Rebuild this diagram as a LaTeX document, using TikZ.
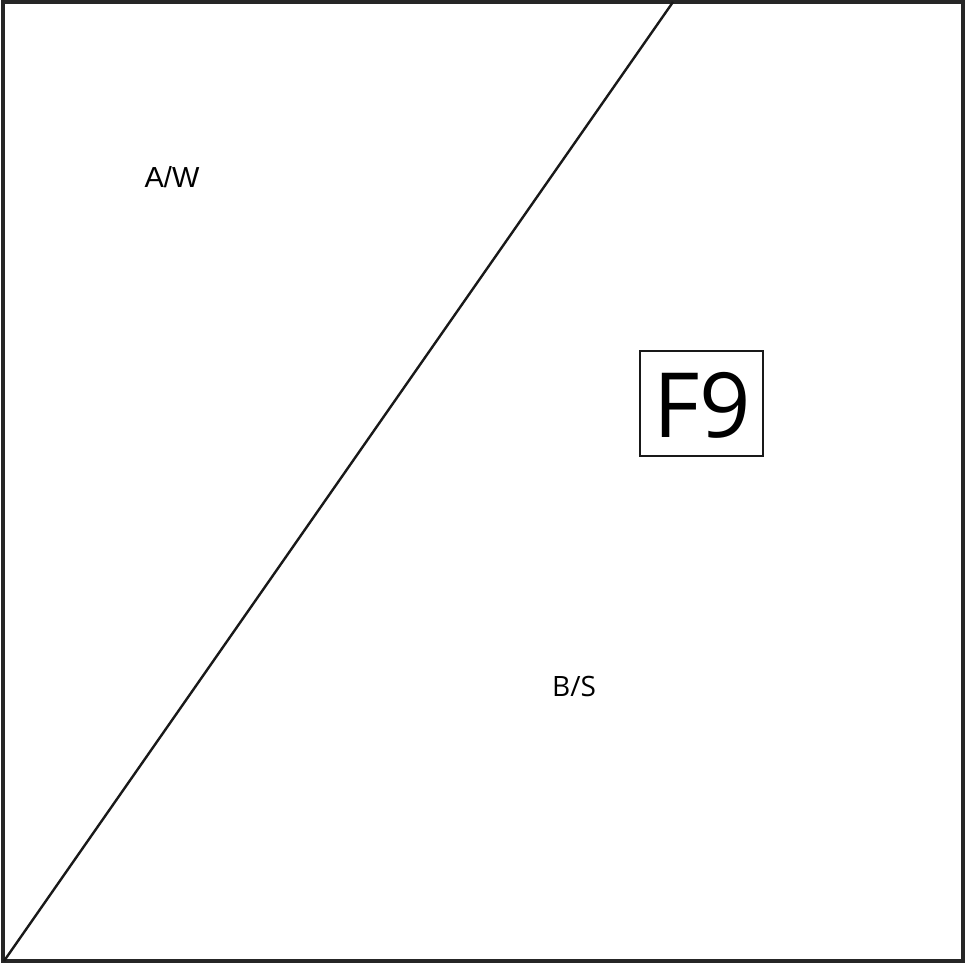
\documentclass[tikz,border=0pt]{standalone}
\usepackage{fontspec}
\setmainfont{Open Sans}
\newfontfamily\arialf{Liberation Sans}
\begin{document}
\begin{tikzpicture}[x=1pt,y=-1pt,
  lbl/.style={inner sep=0pt, anchor=center},
  frame/.style={draw=black!85, line width=3.2pt},
  diag/.style={draw=black!90, line width=2.4pt},
  fbox/.style={draw=black!90, line width=2.4pt, minimum width=123pt, minimum height=105pt, inner sep=0pt}]
\useasboundingbox (0,0) rectangle (965,963);
\draw[frame] (3,2) rectangle (963,961);
\coordinate (bl) at (4,961);
\coordinate (tp) at (673,2);
\draw[diag] (bl) -- (tp);
\node[lbl, font=\arialf\fontsize{29}{34}\selectfont] (aw) at (172,177) {A/W};
\node[lbl, font=\fontsize{28}{33}\selectfont] (bs) at (574,686) {B/S};
\node[fbox] (f9box) at (701.5,403.5) {};
\node[lbl, font=\fontsize{90}{100}\selectfont] (f9) at (702,405) {F9};
\end{tikzpicture}
\end{document}
